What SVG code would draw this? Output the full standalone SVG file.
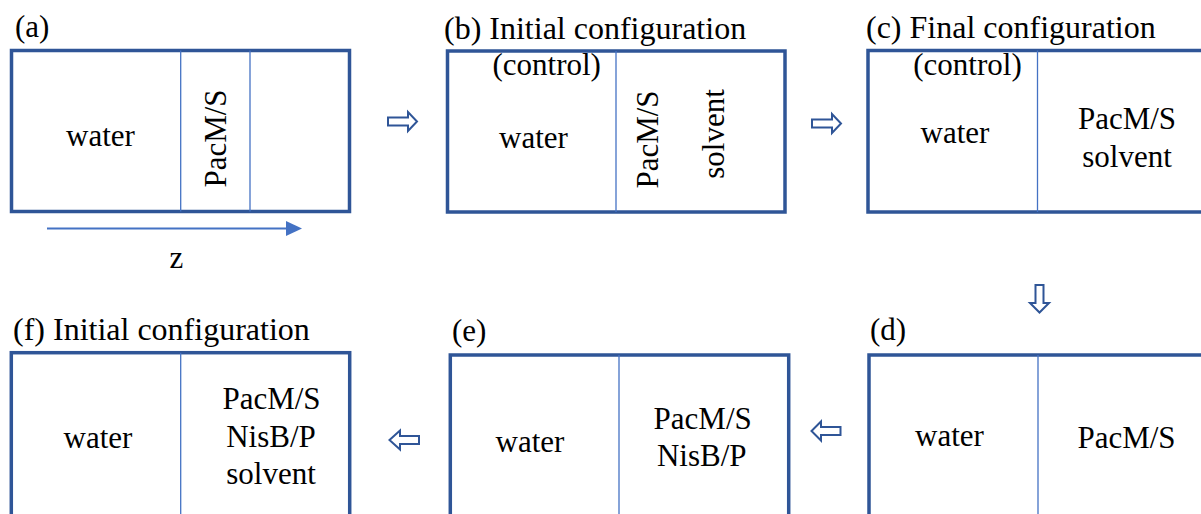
<svg xmlns="http://www.w3.org/2000/svg" width="1201" height="514" viewBox="0 0 1201 514">
<style>
.box{fill:#fff;stroke:#2F5597;stroke-width:3.5}
.div{stroke:#4472C4;stroke-width:1.3;fill:none}
.t{font-family:"Liberation Serif","Times New Roman",serif;font-size:31px;fill:#000}
.ti{font-family:"Liberation Serif","Times New Roman",serif;font-size:32px;fill:#000}
.m{text-anchor:middle}
.arr{fill:#fff;stroke:#2F5597;stroke-width:2;stroke-linejoin:miter}
</style>
<defs>
<marker id="zh" markerWidth="16" markerHeight="15" refX="0" refY="7.5" orient="auto" markerUnits="userSpaceOnUse">
<path d="M0,0 L16,7.5 L0,15 Z" fill="#4472C4"/>
</marker>
</defs>
<rect width="1201" height="514" fill="#fff"/>

<g id="node-a">
<text class="t" x="15" y="37">(a)</text>
<rect class="box" x="11.5" y="50.5" width="338" height="161"/>
<line class="div" x1="180.7" y1="50.5" x2="180.7" y2="211.5"/>
<line class="div" x1="250" y1="50.5" x2="250" y2="211.5"/>
<text class="t m" x="100.5" y="146">water</text>
<text class="t m" transform="translate(226,138.5) rotate(-90)">PacM/S</text>
<text class="t m" x="176.5" y="268">z</text>
</g>

<g id="node-b">
<text class="ti" x="444" y="38.5">(b) Initial configuration</text>
<rect class="box" x="447.5" y="51" width="337.5" height="161"/>
<line class="div" x1="616" y1="51" x2="616" y2="212"/>
<text class="t m" x="546.7" y="75">(control)</text>
<text class="t m" x="533.5" y="148">water</text>
<text class="t m" transform="translate(658,139.5) rotate(-90)">PacM/S</text>
<text class="t m" transform="translate(724,134) rotate(-90)">solvent</text>
</g>

<g id="node-c">
<text class="ti" x="866" y="38">(c) Final configuration</text>
<rect class="box" x="868" y="50.5" width="400" height="161.5"/>
<line class="div" x1="1037.5" y1="50.5" x2="1037.5" y2="212"/>
<text class="t m" x="967.5" y="75">(control)</text>
<text class="t m" x="955" y="143">water</text>
<text class="t m" x="1127" y="129">PacM/S</text>
<text class="t m" x="1127" y="167">solvent</text>
</g>

<g id="node-d">
<text class="t" x="870" y="340">(d)</text>
<rect class="box" x="869" y="355" width="400" height="300"/>
<line class="div" x1="1038" y1="355" x2="1038" y2="514"/>
<text class="t m" x="949.5" y="446">water</text>
<text class="t m" x="1126.5" y="448">PacM/S</text>
</g>

<g id="node-e">
<text class="t" x="452" y="341">(e)</text>
<rect class="box" x="450.3" y="355" width="338.4" height="300"/>
<line class="div" x1="619" y1="355" x2="619" y2="514"/>
<text class="t m" x="530" y="452">water</text>
<text class="t m" x="702.7" y="429">PacM/S</text>
<text class="t m" x="701.7" y="466">NisB/P</text>
</g>

<g id="node-f">
<text class="ti" x="13" y="340">(f) Initial configuration</text>
<rect class="box" x="11.3" y="352.7" width="338.4" height="300"/>
<line class="div" x1="180.7" y1="352.7" x2="180.7" y2="514"/>
<text class="t m" x="98" y="448">water</text>
<text class="t m" x="271.5" y="409">PacM/S</text>
<text class="t m" x="271" y="447">NisB/P</text>
<text class="t m" x="271" y="484">solvent</text>
</g>

<g id="connectors">
<line x1="47" y1="228.5" x2="286" y2="228.5" stroke="#4472C4" stroke-width="2" marker-end="url(#zh)"/>
<polygon class="arr" points="388,117.5 408,117.5 408,112 417,121.5 408,131 408,125.5 388,125.5"/>
<polygon class="arr" points="812,119.5 832,119.5 832,114 841,123.5 832,133 832,127.5 812,127.5"/>
<polygon class="arr" points="1035.5,285 1043.5,285 1043.5,303 1049,303 1039.5,312.5 1030,303 1035.5,303"/>
<polygon class="arr" points="840.5,427 821,427 821,421.5 811.5,431 821,440.5 821,435 840.5,435"/>
<polygon class="arr" points="419,436 400,436 400,430.5 389.5,440 400,449.5 400,444 419,444"/>
</g>
</svg>
